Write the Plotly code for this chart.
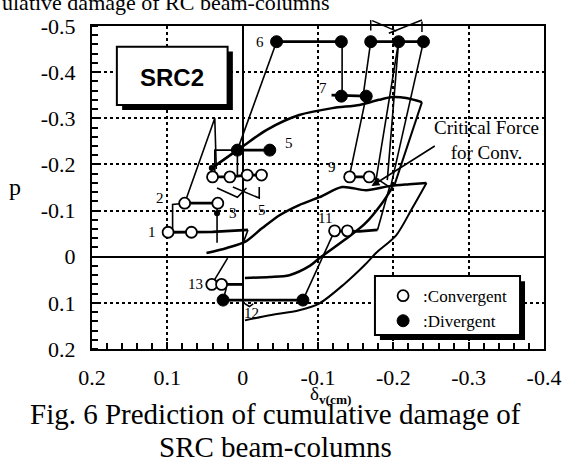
import plotly.graph_objects as go

# ---------------- data ----------------
x_ticks = [0.2, 0.1, 0, -0.1, -0.2, -0.3, -0.4]
x_tick_text = ["0.2", "0.1", "0", "-0.1", "-0.2", "-0.3", "-0.4"]
y_ticks = [-0.5, -0.4, -0.3, -0.2, -0.1, 0, 0.1, 0.2]
y_tick_text = ["-0.5", "-0.4", "-0.3", "-0.2", "-0.1", "0", "0.1", "0.2"]

# convergent (open) and divergent (filled) points
conv_x = [0.099, 0.068, 0.077, 0.033, 0.040, 0.017, -0.006, -0.025, -0.142, -0.168, -0.122, -0.139, 0.041, 0.028]
conv_y = [-0.053, -0.053, -0.116, -0.116, -0.173, -0.173, -0.177, -0.177, -0.173, -0.173, -0.056, -0.056, 0.060, 0.060]
div_x = [0.007, -0.036, -0.045, -0.131, -0.131, -0.164, -0.170, -0.207, -0.240, 0.026, -0.080]
div_y = [-0.231, -0.231, -0.466, -0.466, -0.348, -0.348, -0.466, -0.466, -0.466, 0.094, 0.094]
dot_x = [0.041, 0.034]
dot_y = [-0.192, -0.094]

# critical force curves
upper_x = [0.041, 0.001, -0.032, -0.075, -0.119, -0.155, -0.181, -0.199, -0.217, -0.238]
upper_y = [-0.192, -0.238, -0.275, -0.307, -0.322, -0.329, -0.340, -0.346, -0.344, -0.335]
upper_edge_x = [-0.238, -0.217, -0.201]
upper_edge_y = [-0.335, -0.231, -0.153]
curveA_x = [0.048, 0.021, -0.003, -0.026, -0.049, -0.075, -0.102, -0.132, -0.164, -0.195, -0.221, -0.244]
curveA_y = [-0.008, -0.019, -0.032, -0.062, -0.090, -0.112, -0.129, -0.151, -0.144, -0.153, -0.157, -0.160]
lowest_x = [-0.244, -0.225, -0.204, -0.177, -0.162, -0.135, -0.102, -0.075, -0.036, -0.003]
lowest_y = [-0.160, -0.105, -0.047, -0.008, 0.018, 0.059, 0.101, 0.116, 0.127, 0.138]
middle_x = [-0.003, -0.036, -0.062, -0.089, -0.102, -0.135, -0.162, -0.185, -0.199]
middle_y = [0.046, 0.044, 0.040, 0.020, 0.003, -0.036, -0.071, -0.116, -0.151]

# thick chains joining the points of one step
chains = [
    ([0.099, 0.068, 0.040, -0.007], [-0.053, -0.053, -0.054, -0.058]),
    ([0.077, 0.033], [-0.116, -0.116]),
    ([0.040, 0.017, -0.006, -0.025], [-0.173, -0.173, -0.177, -0.177]),
    ([0.007, -0.036], [-0.231, -0.231]),
    ([-0.045, -0.131], [-0.466, -0.466]),
    ([-0.118, -0.164], [-0.350, -0.348]),
    ([-0.170, -0.240], [-0.466, -0.466]),
    ([-0.142, -0.168, -0.181], [-0.173, -0.173, -0.166]),
    ([-0.122, -0.139, -0.155, -0.179], [-0.056, -0.056, -0.055, -0.058]),
    ([0.026, -0.080], [0.094, 0.094]),
    ([0.041, 0.028, 0.000], [0.060, 0.060, 0.060]),
]

# thin connecting lines
links = [
    ([-0.007, 0.000], [-0.058, -0.027]),
    ([0.093, 0.093, 0.077], [-0.053, -0.113, -0.116]),
    ([0.034, 0.034], [-0.116, -0.030]),
    ([0.077, 0.037, 0.035], [-0.116, -0.300, -0.190]),
    ([0.037, 0.037, 0.007, 0.007], [-0.183, -0.231, -0.231, -0.177]),
    ([0.041, 0.007], [-0.192, -0.231]),
    ([0.034, 0.007, -0.005], [-0.149, -0.129, -0.149]),
    ([0.013, -0.022, -0.022], [-0.151, -0.127, -0.151]),
    ([0.007, -0.045], [-0.231, -0.466]),
    ([-0.131, -0.132, -0.132, -0.131], [-0.466, -0.455, -0.350, -0.348]),
    ([-0.160, -0.170], [-0.350, -0.466]),
    ([-0.164, -0.142], [-0.348, -0.177]),
    ([-0.207, -0.177], [-0.466, -0.166]),
    ([-0.207, -0.192], [-0.466, -0.166]),
    ([-0.240, -0.197], [-0.466, -0.155]),
    ([-0.181, -0.195, -0.179], [-0.166, -0.151, -0.058]),
    ([-0.122, -0.080], [-0.056, 0.094]),
    ([0.026, 0.022, 0.022], [0.094, 0.070, 0.060]),
    ([0.041, 0.020], [0.060, 0.003]),
    ([-0.003, -0.009, -0.014], [0.102, 0.108, 0.102]),
]

# bracket above the frame (8 ... 10)
bracket = [
    ((-0.170, -0.487), (-0.170, -0.513)),
    ((-0.170, -0.513), (-0.204, -0.489)),
    ((-0.192, -0.483), (-0.238, -0.513)),
    ((-0.238, -0.513), (-0.238, -0.487)),
]

# point labels
label_text = ["1", "2", "3", "5", "5", "6", "7", "8", "10", "9", "11", "12", "13"]
label_x = [0.121, 0.110, 0.013, -0.026, -0.062, -0.0225, -0.107, -0.155, -0.257, -0.119, -0.109, -0.012, 0.062]
label_y = [-0.053, -0.127, -0.095, -0.101, -0.246, -0.466, -0.366, -0.524, -0.524, -0.194, -0.084, 0.122, 0.059]

# ---------------- figure ----------------
SERIF = "Liberation Serif, Times New Roman, serif"
fig = go.Figure()

def add_line(xs, ys, width, shape="linear"):
    fig.add_trace(go.Scatter(x=xs, y=ys, mode="lines", showlegend=False, hoverinfo="skip",
                             line=dict(color="black", width=width, shape=shape, smoothing=0.8)))

add_line(upper_x, upper_y, 2.5, "spline")
add_line(upper_edge_x, upper_edge_y, 2)
add_line(curveA_x, curveA_y, 2.5, "spline")
add_line(lowest_x, lowest_y, 2, "spline")
add_line(middle_x, middle_y, 2.5, "spline")
for xs, ys in links:
    add_line(xs, ys, 1.6)
for xs, ys in chains:
    add_line(xs, ys, 2.8)

fig.add_trace(go.Scatter(x=dot_x, y=dot_y, mode="markers", showlegend=False, hoverinfo="skip",
                         marker=dict(color="black", size=6)))
fig.add_trace(go.Scatter(x=conv_x, y=conv_y, mode="markers", name=":Convergent",
                         marker=dict(symbol="circle", color="white", size=11,
                                     line=dict(color="black", width=1.8))))
fig.add_trace(go.Scatter(x=div_x, y=div_y, mode="markers", name=":Divergent",
                         marker=dict(symbol="circle", color="black", size=12,
                                     line=dict(color="black", width=1))))

annotations = []
for t, lx, ly in zip(label_text, label_x, label_y):
    annotations.append(dict(x=lx, y=ly, xref="x", yref="y", text=t, showarrow=False,
                            xanchor="center", yanchor="middle",
                            font=dict(family=SERIF, size=15, color="black")))
for (x0, y0), (x1, y1) in bracket:
    annotations.append(dict(x=x1, y=y1, ax=x0, ay=y0, xref="x", yref="y", axref="x", ayref="y",
                            text="", showarrow=True, arrowhead=0, arrowwidth=1.5,
                            arrowcolor="black", standoff=0, startstandoff=0))
# critical force note with pointer
annotations.append(dict(x=-0.171, y=-0.153, ax=-0.257, ay=-0.242, xref="x", yref="y",
                        axref="x", ayref="y", text="", showarrow=True, arrowhead=2,
                        arrowsize=1, arrowwidth=1.6, arrowcolor="black", standoff=0))
annotations.append(dict(x=-0.324, y=-0.253, xref="x", yref="y",
                        text="Critical Force<br>for Conv.", showarrow=False, align="center",
                        xanchor="center", yanchor="middle",
                        font=dict(family=SERIF, size=19, color="black")))
annotations.append(dict(x=0.094, y=-0.389, xref="x", yref="y", text="<b>SRC2</b>",
                        showarrow=False, xanchor="center", yanchor="middle",
                        font=dict(family="Liberation Sans, Arial, sans-serif", size=24, color="black")))
# axis titles
annotations.append(dict(x=-0.170, y=0.502, xref="paper", yref="paper", text="p", showarrow=False,
                        xanchor="center", yanchor="middle",
                        font=dict(family=SERIF, size=24, color="black")))
annotations.append(dict(x=0.527, y=-0.143, xref="paper", yref="paper",
                        text="δ<sub><b>v(cm)</b></sub>", showarrow=False,
                        xanchor="center", yanchor="middle",
                        font=dict(family=SERIF, size=19, color="black")))
# captions
annotations.append(dict(x=0.407, y=-0.202, xref="paper", yref="paper",
                        text="Fig. 6 Prediction of cumulative damage of", showarrow=False,
                        xanchor="center", yanchor="middle",
                        font=dict(family=SERIF, size=29, color="black")))
annotations.append(dict(x=0.407, y=-0.304, xref="paper", yref="paper",
                        text="SRC beam-columns", showarrow=False,
                        xanchor="center", yanchor="middle",
                        font=dict(family=SERIF, size=29, color="black")))
annotations.append(dict(x=-0.204, y=1.028, xref="paper", yref="paper", xanchor="left", yanchor="bottom",
                        text="ulative damage of RC beam-columns", showarrow=False,
                        font=dict(family=SERIF, size=22, color="black")))

shapes = [
    # SRC2 label box with drop shadow
    dict(type="rect", xref="x", yref="y", x0=0.160, x1=0.013, y0=-0.445, y1=-0.318,
         fillcolor="black", line=dict(width=0), layer="above"),
    dict(type="rect", xref="x", yref="y", x0=0.167, x1=0.020, y0=-0.455, y1=-0.329,
         fillcolor="white", line=dict(color="black", width=2), layer="above"),
    # legend frame with drop shadow
    dict(type="rect", xref="paper", yref="paper", x0=0.637, x1=0.958, y0=0.028, y1=0.210,
         fillcolor="black", line=dict(width=0), layer="above"),
    dict(type="rect", xref="paper", yref="paper", x0=0.626, x1=0.947, y0=0.043, y1=0.226,
         fillcolor="white", line=dict(color="black", width=2), layer="above"),
]

frame = dict(
    showline=True, linecolor="black", linewidth=2, mirror=True,
    showgrid=True, gridcolor="black", gridwidth=1.5, griddash="dot",
    zeroline=True, zerolinecolor="black", zerolinewidth=2,
    tickfont=dict(family=SERIF, size=22, color="black"),
    tickmode="array", automargin=False,
)
minor_ticks = dict(dtick=0.02, ticks="inside", ticklen=6, tickcolor="black", tickwidth=1.5, showgrid=False)

fig.update_layout(
    width=569, height=463,
    margin=dict(l=92, r=25, t=26, b=114),
    paper_bgcolor="white", plot_bgcolor="white",
    xaxis=dict(range=[0.2, -0.4], tickvals=x_ticks, ticktext=x_tick_text,
               ticks="inside", ticklen=7, tickwidth=1.5, tickcolor="black",
               ticklabelstandoff=8, minor=minor_ticks, **frame),
    # major ticks made invisible and outside, which moves the labels off the frame
    yaxis=dict(range=[0.2, -0.5], tickvals=y_ticks, ticktext=y_tick_text,
               ticks="outside", ticklen=10, tickcolor="rgba(0,0,0,0)",
               minor=minor_ticks, **frame),
    showlegend=True,
    legend=dict(x=0.644, y=0.2195, xanchor="left", yanchor="top", bgcolor="rgba(0,0,0,0)",
                borderwidth=0, tracegroupgap=0,
                font=dict(family=SERIF, size=17, color="black")),
    annotations=annotations,
    shapes=shapes,
)

fig.write_html("out.html", config={"displayModeBar": False},
               post_script="document.body.style.margin='0';document.body.style.overflow='hidden';")
